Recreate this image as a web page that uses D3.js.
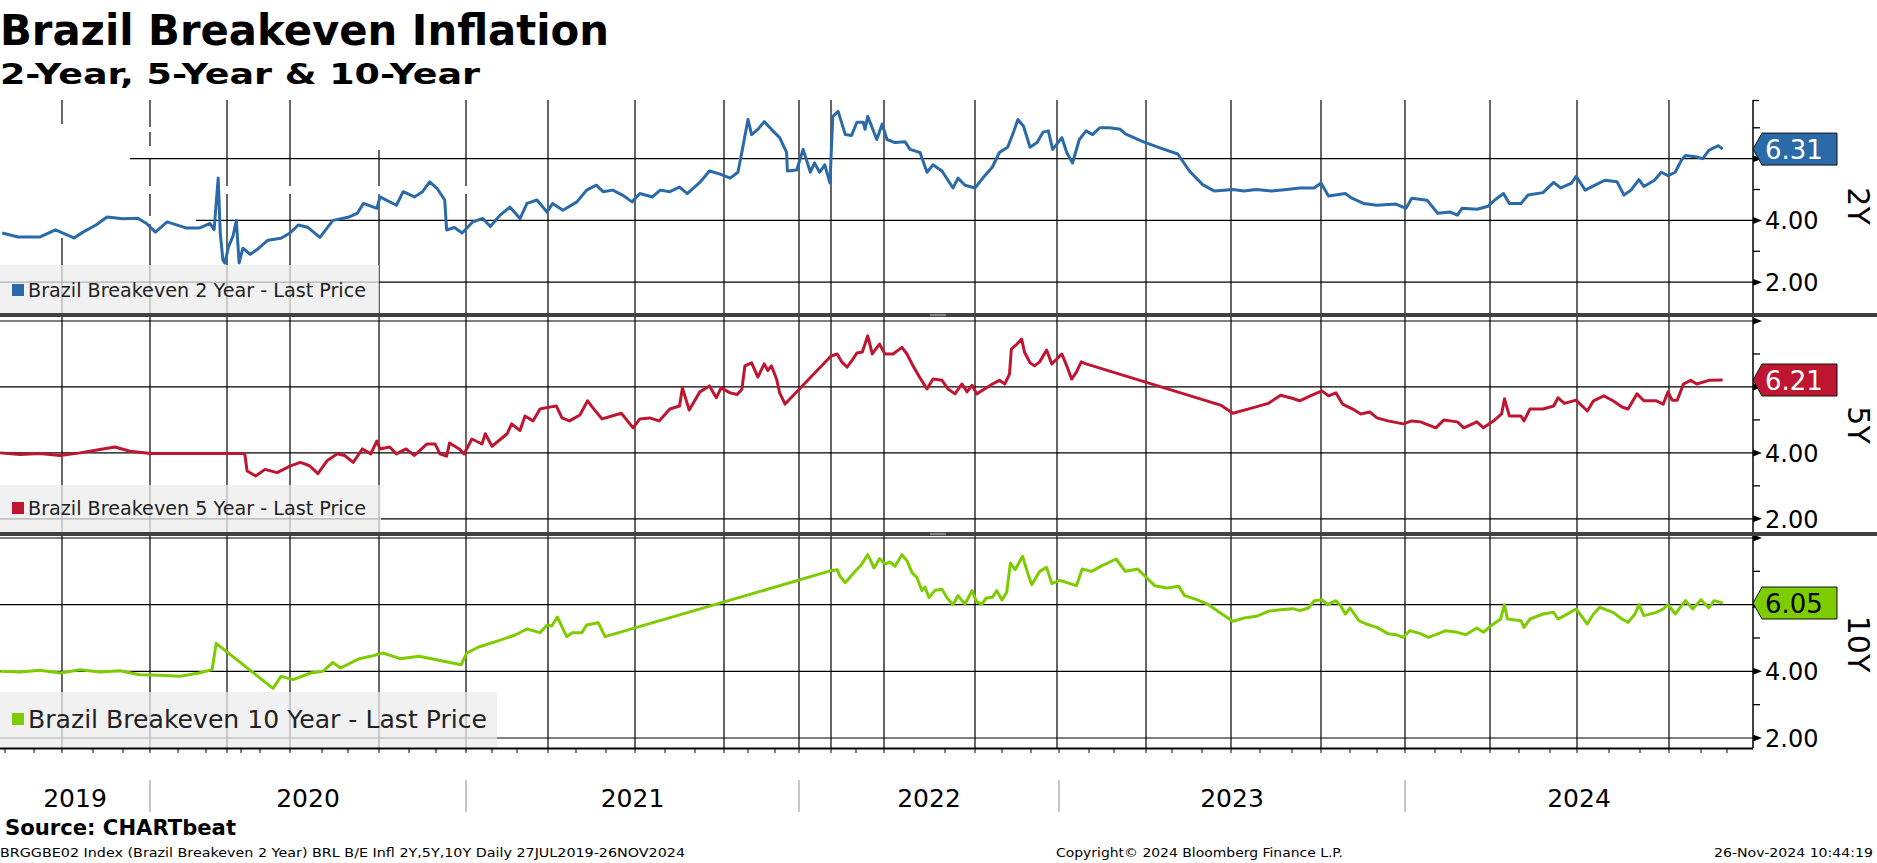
<!DOCTYPE html>
<html>
<head>
<meta charset="utf-8">
<script src="https://cdn.jsdelivr.net/npm/d3@7"></script>
<style>
  body { margin: 0; background: #fff; }
  svg { display: block; }
</style>
</head>
<body>
<svg id="chart" width="1877" height="863"></svg>
<script>
const parse = d3.utcParse('%Y-%m-%d')

/* series: [date, last price] */
const be2y = [
  ['2019-07-29',3.59],['2019-08-15',3.46],['2019-09-07',3.46],['2019-09-24',3.69],['2019-10-13',3.43],['2019-10-22',3.62],
  ['2019-11-04',3.85],['2019-11-15',4.11],['2019-12-01',4.05],['2019-12-18',4.07],['2019-12-28',3.90],['2020-01-07',3.62],
  ['2020-01-20',3.95],['2020-02-10',3.75],['2020-02-23',3.75],['2020-03-07',3.90],['2020-03-13',3.70],['2020-03-19',5.37],
  ['2020-03-22',3.59],['2020-03-26',2.71],['2020-03-29',2.62],['2020-04-04',3.14],['2020-04-14',3.50],['2020-04-21',4.00],
  ['2020-04-27',2.62],['2020-05-04',3.10],['2020-05-16',2.90],['2020-05-30',3.10],['2020-06-09',3.36],['2020-06-22',3.42],
  ['2020-07-01',3.59],['2020-07-09',3.85],['2020-07-18',3.78],['2020-07-30',3.45],['2020-08-14',4.00],['2020-09-01',4.10],
  ['2020-09-10',4.23],['2020-09-16',4.55],['2020-09-29',4.39],['2020-10-02',4.76],['2020-10-19',4.49],['2020-10-26',4.93],
  ['2020-11-07',4.76],['2020-11-16',4.93],['2020-11-24',5.25],['2020-12-02',5.04],['2020-12-10',4.66],['2020-12-12',3.69],
  ['2020-12-20',3.77],['2020-12-28',3.59],['2021-01-09',3.95],['2021-01-21',4.06],['2021-01-30',3.80],['2021-02-10',4.17],
  ['2021-02-21',4.43],['2021-03-04',4.06],['2021-03-11',4.55],['2021-03-21',4.66],['2021-03-31',4.27],['2021-04-06',4.55],
  ['2021-04-17',4.33],['2021-05-02',4.60],['2021-05-12',4.98],['2021-05-22',5.14],['2021-05-29',4.93],['2021-06-08',4.98],
  ['2021-06-18',4.82],['2021-06-28',4.60],['2021-07-06',4.87],['2021-07-19',4.76],['2021-07-27',4.98],['2021-08-06',4.93],
  ['2021-08-16',5.08],['2021-08-24',4.87],['2021-09-06',5.23],['2021-09-16',5.60],['2021-09-27',5.50],['2021-10-09',5.37],
  ['2021-10-19',5.56],['2021-10-24',6.20],['2021-11-01',7.27],['2021-11-05',6.78],['2021-11-12',6.95],['2021-11-19',7.20],
  ['2021-11-27',6.95],['2021-12-07',6.68],['2021-12-16',6.20],['2021-12-17',5.60],['2021-12-29',5.63],['2022-01-05',6.30],
  ['2022-01-12',5.56],['2022-01-16',5.86],['2022-01-21',5.56],['2022-01-26',5.80],['2022-01-31',5.21],['2022-02-03',7.37],
  ['2022-02-09',7.53],['2022-02-17',6.78],['2022-02-24',6.75],['2022-03-02',7.18],['2022-03-09',7.18],['2022-03-11',6.95],
  ['2022-03-14',7.37],['2022-03-24',6.62],['2022-03-30',7.12],['2022-04-04',6.62],['2022-04-12',6.52],['2022-04-22',6.55],
  ['2022-04-27',6.30],['2022-05-07',6.20],['2022-05-14',5.56],['2022-05-20',5.80],['2022-05-29',5.60],['2022-06-09',5.05],
  ['2022-06-14',5.37],['2022-06-21',5.14],['2022-07-01',5.05],['2022-07-10',5.37],['2022-07-21',5.73],['2022-07-29',6.20],
  ['2022-08-07',6.37],['2022-08-13',6.83],['2022-08-18',7.27],['2022-08-24',7.05],['2022-08-31',6.37],['2022-09-08',6.52],
  ['2022-09-15',6.86],['2022-09-21',6.90],['2022-09-26',6.30],['2023-01-04',6.68],['2023-01-09',6.20],['2023-01-15',5.86],
  ['2023-01-22',6.62],['2023-01-29',6.90],['2023-02-05',6.78],['2023-02-13',7.00],['2023-02-24',7.00],['2023-03-07',6.95],
  ['2023-03-12',6.80],['2023-03-29',6.55],['2023-04-17',6.35],['2023-05-07',6.15],['2023-05-19',5.60],['2023-06-02',5.15],
  ['2023-06-14',4.95],['2023-07-03',5.00],['2023-07-15',4.95],['2023-07-28',5.00],['2023-08-12',4.95],['2023-08-27',5.00],
  ['2023-09-09',5.05],['2023-09-24',5.05],['2023-10-01',5.21],['2023-10-09',4.79],['2023-10-27',4.87],['2023-11-03',4.72],
  ['2023-11-16',4.55],['2023-12-01',4.49],['2023-12-22',4.53],['2024-01-02',4.39],['2024-01-08',4.72],['2024-01-24',4.65],
  ['2024-02-04',4.23],['2024-02-18',4.27],['2024-02-26',4.17],['2024-03-02',4.39],['2024-03-18',4.36],['2024-03-30',4.46],
  ['2024-04-06',4.66],['2024-04-15',4.87],['2024-04-21',4.55],['2024-05-03',4.55],['2024-05-10',4.82],['2024-05-25',4.90],
  ['2024-06-05',5.23],['2024-06-13',5.05],['2024-06-25',5.21],['2024-06-30',5.43],['2024-07-09',4.98],['2024-07-17',5.12],
  ['2024-07-28',5.30],['2024-08-09',5.25],['2024-08-16',4.82],['2024-08-23',4.98],['2024-08-31',5.32],['2024-09-05',5.10],
  ['2024-09-16',5.30],['2024-09-23',5.56],['2024-09-30',5.45],['2024-10-07',5.56],['2024-10-13',5.95],['2024-10-17',6.10],
  ['2024-10-28',6.05],['2024-11-03',6.00],['2024-11-10',6.27],['2024-11-21',6.42],['2024-11-26',6.31]
]

const be5y = [
  ['2019-07-27',4.00],['2019-08-17',3.95],['2019-09-07',3.98],['2019-09-29',3.92],['2019-10-19',4.00],['2019-11-08',4.10],
  ['2019-11-23',4.18],['2019-12-09',4.05],['2020-01-02',3.98],['2020-05-07',3.98],['2020-05-11',3.45],['2020-05-25',3.30],
  ['2020-06-06',3.50],['2020-06-18',3.40],['2020-07-01',3.60],['2020-07-11',3.71],['2020-07-20',3.61],['2020-07-28',3.37],
  ['2020-08-07',3.76],['2020-08-19',3.97],['2020-08-28',3.92],['2020-09-06',3.71],['2020-09-15',4.12],['2020-09-23',3.97],
  ['2020-09-29',4.36],['2020-10-02',4.12],['2020-10-12',4.18],['2020-10-19',3.97],['2020-10-29',4.12],['2020-11-07',3.92],
  ['2020-11-21',4.27],['2020-11-30',4.27],['2020-12-05',3.97],['2020-12-12',3.90],['2020-12-15',4.30],['2020-12-25',4.12],
  ['2020-12-30',3.97],['2021-01-08',4.42],['2021-01-20',4.27],['2021-01-24',4.58],['2021-02-01',4.20],['2021-02-18',4.58],
  ['2021-02-23',4.88],['2021-03-04',4.68],['2021-03-09',5.12],['2021-03-17',4.97],['2021-03-24',5.33],['2021-04-01',5.38],
  ['2021-04-10',5.42],['2021-04-16',5.06],['2021-04-24',4.97],['2021-05-05',5.15],['2021-05-13',5.58],['2021-05-18',5.38],
  ['2021-05-28',5.03],['2021-06-07',5.12],['2021-06-17',5.20],['2021-06-29',4.76],['2021-07-06',5.03],['2021-07-16',5.06],
  ['2021-07-26',4.97],['2021-08-06',5.33],['2021-08-16',5.42],['2021-08-19',5.97],['2021-08-26',5.30],['2021-09-06',5.85],
  ['2021-09-16',6.03],['2021-09-23',5.67],['2021-09-28',5.97],['2021-10-09',5.82],['2021-10-18',5.77],['2021-10-24',5.92],
  ['2021-10-28',6.64],['2021-11-05',6.73],['2021-11-12',6.30],['2021-11-19',6.70],['2021-11-23',6.50],['2021-11-27',6.64],
  ['2021-12-03',6.24],['2021-12-07',5.82],['2021-12-14',5.48],['2022-02-01',6.94],['2022-02-08',7.00],['2022-02-13',6.76],
  ['2022-02-19',6.60],['2022-02-25',6.82],['2022-03-02',7.03],['2022-03-08',7.06],['2022-03-14',7.55],['2022-03-19',7.00],
  ['2022-03-27',7.30],['2022-04-02',7.00],['2022-04-10',7.00],['2022-04-19',7.20],['2022-04-24',7.00],['2022-04-30',6.64],
  ['2022-05-07',6.27],['2022-05-14',5.94],['2022-05-20',6.24],['2022-05-29',6.20],['2022-06-04',5.94],['2022-06-11',5.79],
  ['2022-06-18',6.09],['2022-06-23',5.85],['2022-06-28',6.05],['2022-07-03',5.79],['2022-07-12',5.94],['2022-07-21',6.09],
  ['2022-07-29',6.20],['2022-08-04',6.09],['2022-08-09',6.39],['2022-08-11',7.15],['2022-08-17',7.30],['2022-08-22',7.45],
  ['2022-08-25',7.06],['2022-08-31',6.73],['2022-09-05',6.64],['2022-09-11',6.76],['2022-09-19',7.12],['2022-09-25',6.70],
  ['2023-01-04',7.00],['2023-01-09',6.64],['2023-01-14',6.24],['2023-01-19',6.45],['2023-01-24',6.76],['2023-01-29',6.70],
  ['2023-06-21',5.44],['2023-07-03',5.20],['2023-07-22',5.35],['2023-08-09',5.50],['2023-08-21',5.75],['2023-09-02',5.65],
  ['2023-09-09',5.58],['2023-09-20',5.73],['2023-10-02',5.88],['2023-10-09',5.73],['2023-10-17',5.82],['2023-10-24',5.48],
  ['2023-11-04',5.33],['2023-11-13',5.18],['2023-11-23',5.24],['2023-12-01',5.06],['2023-12-13',4.97],['2023-12-30',4.88],
  ['2024-01-08',4.97],['2024-01-17',4.94],['2024-02-02',4.76],['2024-02-11',5.00],['2024-02-26',4.94],['2024-03-04',4.76],
  ['2024-03-18',4.94],['2024-03-25',4.76],['2024-04-06',5.00],['2024-04-13',5.18],['2024-04-16',5.64],['2024-04-21',5.12],
  ['2024-05-03',5.12],['2024-05-06',4.97],['2024-05-12',5.33],['2024-05-25',5.33],['2024-06-05',5.42],['2024-06-10',5.67],
  ['2024-06-17',5.50],['2024-06-30',5.60],['2024-07-11',5.27],['2024-07-17',5.58],['2024-07-27',5.73],['2024-08-05',5.58],
  ['2024-08-14',5.39],['2024-08-20',5.33],['2024-08-29',5.79],['2024-09-05',5.58],['2024-09-18',5.58],['2024-09-25',5.48],
  ['2024-09-30',5.85],['2024-10-04',5.60],['2024-10-09',5.60],['2024-10-15',6.09],['2024-10-22',6.20],['2024-10-28',6.09],
  ['2024-11-10',6.20],['2024-11-26',6.21]
]

const be10y = [
  ['2019-07-27',4.00],['2019-08-17',3.98],['2019-09-07',4.03],['2019-09-29',3.95],['2019-10-19',4.05],['2019-11-08',3.98],
  ['2019-11-28',4.02],['2019-12-20',3.90],['2020-01-12',3.88],['2020-02-03',3.85],['2020-02-23',3.95],['2020-03-10',4.05],
  ['2020-03-16',4.84],['2020-06-14',3.49],['2020-06-22',3.85],['2020-07-04',3.75],['2020-07-21',3.95],['2020-08-02',4.00],
  ['2020-08-14',4.27],['2020-08-23',4.10],['2020-09-12',4.38],['2020-09-23',4.45],['2020-10-05',4.55],['2020-10-23',4.38],
  ['2020-11-12',4.45],['2020-12-09',4.30],['2020-12-27',4.20],['2021-01-02',4.55],['2021-01-16',4.73],['2021-02-06',4.90],
  ['2021-02-27',5.09],['2021-03-11',5.27],['2021-03-24',5.16],['2021-03-31',5.39],['2021-04-05',5.36],['2021-04-11',5.63],
  ['2021-04-21',5.04],['2021-04-27',5.16],['2021-05-07',5.16],['2021-05-12',5.39],['2021-05-24',5.46],['2021-05-31',5.04],
  ['2022-02-01',7.02],['2022-02-08',7.05],['2022-02-11',6.85],['2022-02-17',6.66],['2022-02-28',7.00],['2022-03-07',7.20],
  ['2022-03-14',7.50],['2022-03-21',7.10],['2022-03-27',7.38],['2022-04-02',7.22],['2022-04-07',7.28],['2022-04-12',7.15],
  ['2022-04-19',7.50],['2022-04-24',7.32],['2022-04-29',6.96],['2022-05-04',6.81],['2022-05-09',6.42],['2022-05-12',6.53],
  ['2022-05-16',6.21],['2022-05-22',6.43],['2022-05-29',6.46],['2022-06-03',6.21],['2022-06-09',6.00],['2022-06-14',6.27],
  ['2022-06-21',6.02],['2022-06-28',6.42],['2022-07-03',6.08],['2022-07-09',6.02],['2022-07-14',6.20],['2022-07-21',6.22],
  ['2022-07-26',6.42],['2022-08-01',6.14],['2022-08-06',6.37],['2022-08-10',7.25],['2022-08-15',7.05],['2022-08-23',7.45],
  ['2022-08-29',6.90],['2022-09-02',6.60],['2022-09-11',7.00],['2022-09-19',7.12],['2022-09-25',6.63],['2023-01-02',6.73],
  ['2023-01-19',6.57],['2023-01-25',7.07],['2023-02-04',7.00],['2023-02-14',7.15],['2023-03-03',7.37],['2023-03-12',7.00],
  ['2023-03-24',7.07],['2023-04-02',6.80],['2023-04-11',6.57],['2023-04-25',6.50],['2023-05-08',6.55],['2023-05-14',6.27],
  ['2023-05-26',6.16],['2023-06-08',6.00],['2023-06-20',5.75],['2023-07-03',5.50],['2023-07-15',5.60],['2023-07-28',5.65],
  ['2023-08-09',5.80],['2023-08-21',5.85],['2023-09-02',5.88],['2023-09-09',5.82],['2023-09-18',5.90],['2023-09-24',6.12],
  ['2023-10-02',6.15],['2023-10-08',6.00],['2023-10-17',6.12],['2023-10-22',5.97],['2023-10-27',5.72],['2023-11-01',5.90],
  ['2023-11-11',5.52],['2023-11-19',5.42],['2023-12-01',5.32],['2023-12-13',5.13],['2023-12-22',5.10],['2023-12-30',5.02],
  ['2024-01-06',5.22],['2024-01-17',5.13],['2024-01-25',5.02],['2024-02-02',5.10],['2024-02-13',5.22],['2024-02-26',5.17],
  ['2024-03-06',5.10],['2024-03-18',5.30],['2024-03-25',5.17],['2024-04-02',5.37],['2024-04-12',5.57],['2024-04-16',6.00],
  ['2024-04-19',5.57],['2024-05-03',5.52],['2024-05-06',5.32],['2024-05-12',5.57],['2024-05-25',5.72],['2024-06-05',5.77],
  ['2024-06-10',5.57],['2024-06-17',5.67],['2024-06-30',5.87],['2024-07-11',5.42],['2024-07-17',5.72],['2024-07-23',5.92],
  ['2024-08-05',5.77],['2024-08-14',5.57],['2024-08-20',5.47],['2024-08-27',5.72],['2024-08-31',6.00],['2024-09-05',5.67],
  ['2024-09-18',5.77],['2024-09-25',5.87],['2024-09-30',6.00],['2024-10-07',5.72],['2024-10-17',6.12],['2024-10-24',5.87],
  ['2024-11-01',6.15],['2024-11-10',5.90],['2024-11-16',6.12],['2024-11-26',6.05]
]

const majorTicks = [2, 4, 6, 8]
const minorTicks = [3, 5, 7]
const yearLabels = ['2019', '2020', '2021', '2022', '2023', '2024']
const extraGridDates = ['2022-02-01']

/* layout: Bloomberg's date axis is not linear in time (it skips days with no
   prices), so the time scale is calibrated on the month ticks of the original */
const xAnchors = [
  ['2019-07-01',-24],['2019-08-01',5],['2019-09-01',34],['2019-10-01',62],['2019-11-01',93],['2019-12-01',123],
  ['2020-01-01',150],['2020-02-01',178],['2020-03-01',206],['2020-04-01',227],['2020-05-01',241],['2020-06-01',260],
  ['2020-07-01',290],['2020-08-01',322],['2020-09-01',348],['2020-10-01',379],['2020-11-01',409],['2020-12-01',436],
  ['2021-01-01',466],['2021-02-01',492],['2021-03-01',517],['2021-04-01',548],['2021-05-01',576],['2021-06-01',606],
  ['2021-07-01',635],['2021-08-01',665],['2021-09-01',695],['2021-10-01',724],['2021-11-01',748],['2021-12-01',775],
  ['2022-01-01',799],['2022-02-01',831],['2022-03-01',856],['2022-04-01',884],['2022-05-01',914],['2022-06-01',945],
  ['2022-07-01',975],['2022-08-01',1002],['2022-09-01',1031],['2022-10-01',1057],
  ['2023-01-01',1059],['2023-02-01',1089],['2023-03-01',1114],['2023-04-01',1146],['2023-05-01',1172],['2023-06-01',1202],
  ['2023-07-01',1231],['2023-08-01',1260],['2023-09-01',1292],['2023-10-01',1321],['2023-11-01',1350],['2023-12-01',1377],
  ['2024-01-01',1405],['2024-02-01',1435],['2024-03-01',1461],['2024-04-01',1490],['2024-05-01',1519],['2024-06-01',1550],
  ['2024-07-01',1577],['2024-08-01',1609],['2024-09-01',1640],['2024-10-01',1669],['2024-11-01',1701],['2024-12-01',1727]
]

const W = 1877
const plotRight = 1753
const axisBottom = 748
const font = '"DejaVu Sans", Verdana, sans-serif'

const panels = [
  {key: '2Y', data: be2y, color: '#2a6aa8', ink: '#fff', top: 100, gridTop: 100, bottom: 313, domain: [1.0, 7.9],
   legend: {text: 'Brazil Breakeven 2 Year - Last Price', w: 379, top: 265, cy: 290, size: 19, len: 338, sq: 12}, keyY: 206},
  {key: '5Y', data: be5y, color: '#be1630', ink: '#fff', top: 321, gridTop: 317, bottom: 532, domain: [1.6, 8.0],
   legend: {text: 'Brazil Breakeven 5 Year - Last Price', w: 381, top: 485, cy: 508, size: 19, len: 338, sq: 12}, keyY: 425},
  {key: '10Y', data: be10y, color: '#7dcc00', ink: '#000', top: 538, gridTop: 536, bottom: axisBottom, domain: [1.7, 8.0],
   legend: {text: 'Brazil Breakeven 10 Year - Last Price', w: 497, top: 692, cy: 719, size: 25, len: 459, sq: 12}, keyY: 644}
]

// bits of the grid that are blanked out in the top-left of the first panel
const blanked = [[0,124,130,114],[140,186,340,8],[127,216,69,8],[300,100,120,50],[146,127,8,5],[146,146,8,12]]

const x = d3.scaleUtc()
  .domain(xAnchors.map((d) => parse(d[0])))
  .range(xAnchors.map((d) => d[1]))

const svg = d3.select('#chart').attr('font-family', font)

/* titles */
svg.append('text').attr('x', 0).attr('y', 45)
  .attr('font-size', 43).attr('font-weight', 'bold')
  .attr('textLength', 609).attr('lengthAdjust', 'spacingAndGlyphs')
  .text('Brazil Breakeven Inflation')
svg.append('text').attr('x', 0).attr('y', 84)
  .attr('font-size', 28).attr('font-weight', 'bold')
  .attr('textLength', 480).attr('lengthAdjust', 'spacingAndGlyphs')
  .text('2-Year, 5-Year & 10-Year')

/* vertical grid: quarter starts plus one extra line, dropping near-duplicates */
const gridDates = d3.utcMonth.every(3).range(parse('2019-10-01'), parse('2024-11-01'))
  .concat(extraGridDates.map(parse))
  .map((d) => x(d))
  .sort(d3.ascending)
  .filter((px, i, arr) => i === 0 || px - arr[i - 1] > 4)

const fmt = d3.format('.2f')

panels.forEach((p, pi) => {
  const y = d3.scaleLinear().domain(p.domain).range([p.bottom, p.top])
  const g = svg.append('g').attr('class', 'panel-' + p.key)
  const clipId = 'clip-' + p.key
  svg.append('clipPath').attr('id', clipId)
    .append('rect').attr('x', 0).attr('y', p.gridTop).attr('width', plotRight).attr('height', p.bottom - p.gridTop)

  const last = p.data[p.data.length - 1][1]
  const cy = y(last)

  const grid = g.append('g').attr('stroke', '#000').attr('stroke-width', 1.2)
  grid.selectAll('line.v').data(gridDates).join('line')
    .attr('class', 'v')
    .attr('x1', (d) => d).attr('x2', (d) => d)
    .attr('y1', p.gridTop).attr('y2', p.bottom)
  const majors = majorTicks.filter((v) => v >= p.domain[0] && v <= p.domain[1] + 1e-9)
  grid.selectAll('line.h').data(majors).join('line')
    .attr('class', 'h')
    .attr('x1', 0).attr('x2', plotRight)
    .attr('y1', (d) => y(d)).attr('y2', (d) => y(d))

  if (pi === 0) {
    g.append('g').selectAll('rect').data(blanked).join('rect')
      .attr('x', (d) => d[0]).attr('y', (d) => d[1])
      .attr('width', (d) => d[2]).attr('height', (d) => d[3])
      .attr('fill', '#fff')
  }

  // legend box (translucent so the grid shows through)
  const lg = g.append('g')
  lg.append('rect').attr('x', 0).attr('y', p.legend.top)
    .attr('width', p.legend.w).attr('height', p.bottom - p.legend.top)
    .attr('fill', '#ececec').attr('fill-opacity', 0.75)
  lg.append('rect').attr('x', 12).attr('y', p.legend.cy - p.legend.sq / 2)
    .attr('width', p.legend.sq).attr('height', p.legend.sq).attr('fill', p.color)
  lg.append('text').attr('x', 28).attr('y', p.legend.cy + p.legend.size * 0.36)
    .attr('font-size', p.legend.size).attr('fill', '#222')
    .attr('textLength', p.legend.len).attr('lengthAdjust', 'spacingAndGlyphs')
    .text(p.legend.text)

  // the series
  const pts = p.data.map((d) => [parse(d[0]), d[1]])
  g.append('path')
    .datum(pts)
    .attr('clip-path', `url(#${clipId})`)
    .attr('d', d3.line().x((d) => x(d[0])).y((d) => y(d[1])))
    .attr('fill', 'none')
    .attr('stroke', p.color)
    .attr('stroke-width', 3)
    .attr('stroke-linejoin', 'round')

  // right axis
  const ax = g.append('g')
  ax.append('line').attr('x1', plotRight).attr('x2', plotRight)
    .attr('y1', p.gridTop).attr('y2', p.bottom)
    .attr('stroke', '#000').attr('stroke-width', 1.5)
  ax.selectAll('path.arrow').data(majors).join('path')
    .attr('class', 'arrow')
    .attr('d', (d) => `M${plotRight},${y(d) - 3.5}L${plotRight + 9},${y(d)}L${plotRight},${y(d) + 3.5}Z`)
    .attr('fill', '#000')
  ax.selectAll('line.minor')
    .data(minorTicks.filter((v) => v > p.domain[0] && v < p.domain[1]))
    .join('line').attr('class', 'minor')
    .attr('x1', plotRight).attr('x2', plotRight + 7)
    .attr('y1', (d) => y(d)).attr('y2', (d) => y(d))
    .attr('stroke', '#000').attr('stroke-width', 1.3)
  if (pi === 0) {
    ax.append('line').attr('x1', plotRight).attr('x2', plotRight + 6)
      .attr('y1', p.top + 0.5).attr('y2', p.top + 0.5)
      .attr('stroke', '#000').attr('stroke-width', 1.3)
  }
  // tick labels; the one sitting under the last-value tag is hidden by it
  ax.selectAll('text.tick')
    .data(majors.filter((v) => y(v) > p.top + 8 && Math.abs(y(v) - cy) > 26))
    .join('text').attr('class', 'tick')
    .attr('x', plotRight + 12).attr('y', (d) => y(d) + 8.7)
    .attr('font-size', 24).attr('fill', '#000')
    .text((d) => fmt(d))

  // last value tag
  ax.append('path')
    .attr('d', `M${plotRight},${cy}L${plotRight + 9},${cy - 16}L1837,${cy - 16}L1837,${cy + 16}L${plotRight + 9},${cy + 16}Z`)
    .attr('fill', p.color).attr('stroke', '#111').attr('stroke-width', 1)
  ax.append('text').attr('x', plotRight + 12).attr('y', cy + 9.5)
    .attr('font-size', 26).attr('fill', p.ink)
    .text(fmt(last))

  // rotated key on the far right
  ax.append('text')
    .attr('transform', `translate(1858,${p.keyY}) rotate(90)`)
    .attr('text-anchor', 'middle').attr('dominant-baseline', 'central')
    .attr('font-size', 30).attr('fill', '#000')
    .text(p.key)
})

/* panel separators with their little drag handles */
const seps = [313, 532]
svg.append('g').selectAll('rect').data(seps).join('rect')
  .attr('x', 0).attr('y', (d) => d).attr('width', W).attr('height', 4).attr('fill', '#404040')
svg.append('g').selectAll('g').data(seps).join('g')
  .selectAll('line').data((d) => [d + 1.3, d + 2.7]).join('line')
  .attr('x1', 930).attr('x2', 946).attr('y1', (d) => d).attr('y2', (d) => d)
  .attr('stroke', '#aaa').attr('stroke-width', 0.8)

/* date axis */
svg.append('line').attr('x1', 0).attr('x2', plotRight)
  .attr('y1', axisBottom + 0.5).attr('y2', axisBottom + 0.5)
  .attr('stroke', '#000').attr('stroke-width', 2)
const monthTicks = xAnchors.map((d) => d[1])
  .filter((px, i, arr) => px >= 0 && (i === arr.length - 1 || arr[i + 1] - px > 4))
svg.append('g').selectAll('line').data(monthTicks).join('line')
  .attr('x1', (d) => d).attr('x2', (d) => d)
  .attr('y1', axisBottom + 1).attr('y2', axisBottom + 5)
  .attr('stroke', '#000').attr('stroke-width', 1)

const yearEdges = [0].concat(yearLabels.slice(1).map((yr) => x(parse(yr + '-01-01')))).concat([plotRight])
svg.append('g').selectAll('line').data(yearEdges.slice(1, -1)).join('line')
  .attr('x1', (d) => d).attr('x2', (d) => d).attr('y1', 780).attr('y2', 812)
  .attr('stroke', '#8c8c8c').attr('stroke-width', 1)
svg.append('g').selectAll('text').data(yearLabels).join('text')
  .attr('x', (d, i) => (yearEdges[i] + yearEdges[i + 1]) / 2)
  .attr('y', 807)
  .attr('text-anchor', 'middle').attr('font-size', 25).attr('fill', '#000')
  .text((d) => d)

/* footer */
svg.append('text').attr('x', 5).attr('y', 835)
  .attr('font-size', 21).attr('font-weight', 'bold')
  .attr('textLength', 231).attr('lengthAdjust', 'spacingAndGlyphs')
  .text('Source: CHARTbeat')
const footer = [
  {x: 0, len: 685, text: 'BRGGBE02 Index (Brazil Breakeven 2 Year) BRL B/E Infl 2Y,5Y,10Y  Daily 27JUL2019-26NOV2024'},
  {x: 1056, len: 287, text: 'Copyright\u00A9 2024 Bloomberg Finance L.P.'},
  {x: 1714, len: 159, text: '26-Nov-2024 10:44:19'}
]
svg.append('g').selectAll('text').data(footer).join('text')
  .attr('x', (d) => d.x).attr('y', 857)
  .attr('font-size', 13).attr('fill', '#000')
  .attr('textLength', (d) => d.len).attr('lengthAdjust', 'spacingAndGlyphs')
  .text((d) => d.text)
</script>
</body>
</html>
